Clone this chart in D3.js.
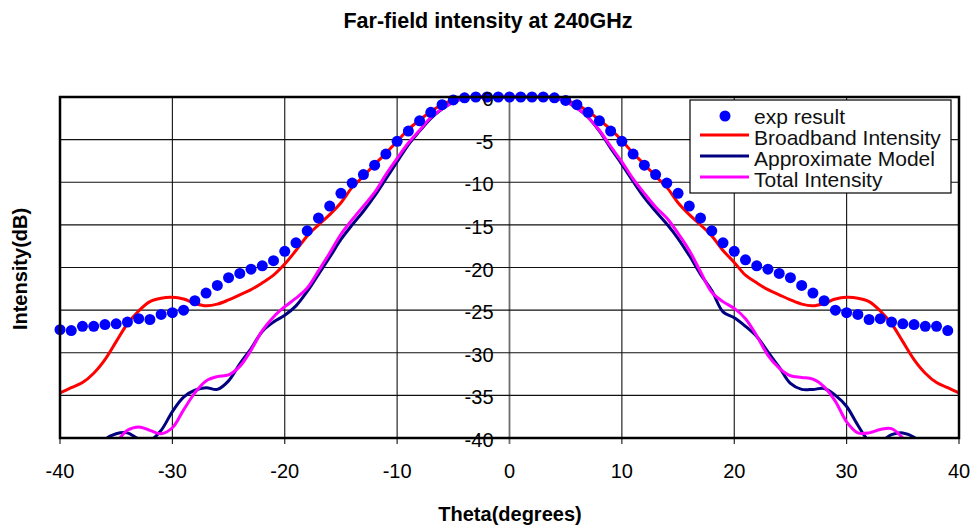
<!DOCTYPE html>
<html>
<head>
<meta charset="utf-8">
<script src="https://cdn.jsdelivr.net/npm/d3@7"></script>
<style>
  body { margin: 0; background: #fff; }
  text { font-family: "Liberation Sans", Arial, sans-serif; }
</style>
</head>
<body>
<div id="chart"></div>
<script>
// measured angles (degrees)
var expTheta = [-40,-39,-38,-37,-36,-35,-34,-33,-32,-31,-30,-29,-28,-27,-26,-25,-24,-23,-22,-21,
  -20,-19,-18,-17,-16,-15,-14,-13,-12,-11,-10,-9,-8,-7,-6,-5,-4,-3,-2,-1,
  0,1,2,3,4,5,6,7,8,9,10,11,12,13,14,15,16,17,18,19,
  20,21,22,23,24,25,26,27,28,29,30,31,32,33,34,35,36,37,38,39];
var expDb = [-27.3,-27.4,-26.9,-26.9,-26.7,-26.6,-26.4,-26.0,-26.1,-25.5,-25.3,-25.0,-23.9,-23.0,-22.1,-21.2,-20.7,-20.2,-19.8,-19.2,
  -18.1,-17.1,-15.7,-14.2,-12.8,-11.3,-10.1,-9.1,-8.0,-6.7,-5.2,-4.0,-2.8,-1.8,-0.9,-0.35,-0.1,0,0,0,
  0,0,0,0,-0.1,-0.4,-0.9,-1.8,-2.8,-4.0,-5.2,-6.7,-8.0,-9.1,-10.1,-11.3,-12.8,-14.2,-15.7,-17.1,
  -18.1,-19.1,-19.8,-20.2,-20.7,-21.2,-22.1,-23.0,-23.9,-25.0,-25.3,-25.5,-26.1,-26.0,-26.4,-26.6,-26.7,-26.9,-26.9,-27.4];

// broadband intensity
var bbTheta = [-40,-39,-38,-37,-36,-35,-34,-33,-32,-31,-30,-29,-28,-27,-26,-25,-24,-23,-22,-21,
  -20,-19,-18,-17,-16,-15,-14,-13,-12,-11,-10,-9,-8,-7,-6,-5,-4,-3,-2,-1,0,
  1,2,3,4,5,6,7,8,9,10,11,12,13,14,15,16,17,18,19,20,
  21,22,23,24,25,26,27,28,29,30,31,32,33,34,35,36,37,38,39,40];
var bbDb = [-34.7,-34.1,-33.5,-32.4,-30.8,-28.7,-26.6,-25.1,-24.0,-23.6,-23.5,-23.7,-24.2,-24.5,-24.3,-23.8,-23.2,-22.6,-21.8,-20.9,
  -19.6,-18.0,-16.3,-15.0,-13.8,-12.4,-10.6,-9.3,-7.9,-6.6,-5.2,-3.8,-2.7,-1.7,-0.9,-0.35,-0.1,0,0,0,0,
  0,0,0,-0.1,-0.35,-0.9,-1.7,-2.7,-3.8,-5.1,-6.6,-7.9,-9.3,-10.6,-12.4,-13.8,-15.0,-16.3,-18.0,-19.4,
  -20.9,-21.8,-22.6,-23.2,-23.8,-24.3,-24.5,-24.2,-23.7,-23.5,-23.6,-24.0,-25.1,-26.6,-28.7,-30.8,-32.4,-33.5,-34.1,-34.7];

// approximate model
var amTheta = [-37,-36,-35,-34,-33,-32,-31,-30,-29,-28,-27,-26,-25,-24,-23,-22,-21,-20,-19,-18,
  -17,-16,-15,-14,-13,-12,-11,-10,-9,-8,-7,-6,-5,-4,-3,-2,-1,0,
  1,2,3,4,5,6,7,8,9,10,11,12,13,14,15,16,17,18,19,20,
  21,22,23,24,25,26,27,28,29,30,31,32,33,34,35,36,37];
var amDb = [-42.0,-40.2,-39.5,-39.4,-40.1,-40.3,-39.1,-36.9,-35.2,-34.4,-34.1,-34.3,-33.3,-31.3,-29.5,-27.5,-26.4,-25.6,-24.5,-22.8,
  -20.8,-18.8,-16.7,-15.0,-13.4,-11.6,-9.6,-7.6,-5.6,-4.0,-2.5,-1.4,-0.6,-0.15,0,0,0,0,
  0,0,0,-0.1,-0.5,-1.3,-2.4,-4.0,-6.0,-7.9,-9.9,-11.8,-13.4,-14.9,-16.6,-18.6,-20.8,-22.7,-25.2,-25.9,
  -26.9,-28.1,-29.9,-31.7,-33.6,-34.3,-34.3,-34.2,-35.0,-36.3,-38.5,-40.3,-40.4,-39.6,-39.4,-39.9,-41.2];

// total intensity
var tiTheta = [-36,-35,-34,-33,-32,-31,-30,-29,-28,-27,-26,-25,-24,-23,-22,-21,-20,-19,-18,
  -17,-16,-15,-14,-13,-12,-11,-10,-9,-8,-7,-6,-5,-4,-3,-2,-1,0,
  1,2,3,4,5,6,7,8,9,10,11,12,13,14,15,16,17,18,19,20,
  21,22,23,24,25,26,27,28,29,30,31,32,33,34,35,36];
var tiDb = [-41.5,-40.5,-39.1,-38.7,-39.1,-39.5,-38.8,-36.7,-34.7,-33.3,-32.8,-32.6,-31.6,-29.7,-27.4,-25.8,-24.6,-23.6,-22.4,
  -20.4,-18.3,-16.1,-14.4,-12.8,-11.2,-9.1,-7.2,-5.4,-3.9,-2.4,-1.4,-0.6,-0.15,0,0,0,0,
  0,0,0,-0.1,-0.5,-1.3,-2.4,-3.9,-5.8,-7.6,-9.6,-11.3,-12.9,-14.2,-16.0,-18.0,-20.5,-22.9,-24.0,-24.8,
  -26.0,-28.0,-30.3,-31.8,-32.7,-32.9,-33.1,-34.0,-35.7,-38.1,-39.4,-39.4,-39.0,-38.9,-40.0,-41.5];

var xTicks = [-40,-30,-20,-10,0,10,20,30,40];
var yTicks = [0,-5,-10,-15,-20,-25,-30,-35,-40];

var legendNames = ["exp result","Broadband Intensity","Approximate Model","Total Intensity"];
var colors = {exp: "#0000ff", bb: "#ff0000", am: "#000080", ti: "#ff00ff"};

var W = 974, H = 525;
var pL = 60, pR = 959, pT = 97, pB = 438;

var svg = d3.select("#chart").append("svg").attr("width", W).attr("height", H);

var x = d3.scaleLinear().domain([-40, 40]).range([pL, pR]);
var y = d3.scaleLinear().domain([0, -40]).range([pT, pB]);

// grid
svg.append("g").selectAll("line").data(xTicks).enter().append("line")
  .attr("x1", d => x(d)).attr("x2", d => x(d))
  .attr("y1", pT).attr("y2", pB + 6)
  .attr("stroke", d => d === 0 ? "#6e6e6e" : "#111").attr("stroke-width", d => d === 0 ? 1.8 : 1.1);
svg.append("g").selectAll("line").data(yTicks).enter().append("line")
  .attr("x1", pL).attr("x2", pR)
  .attr("y1", d => y(d)).attr("y2", d => y(d))
  .attr("stroke", "#111").attr("stroke-width", 1.1);

// clip
svg.append("clipPath").attr("id", "plotclip").append("rect")
  .attr("x", pL).attr("y", pT - 8).attr("width", pR - pL).attr("height", pB - pT + 8);

var plot = svg.append("g").attr("clip-path", "url(#plotclip)");

function pairs(t, v) { return t.map((d, i) => [d, v[i]]); }

var line = d3.line().x(d => x(d[0])).y(d => y(d[1])).curve(d3.curveCatmullRom.alpha(0.5));

plot.append("path").datum(pairs(bbTheta, bbDb)).attr("d", line)
  .attr("fill", "none").attr("stroke", colors.bb).attr("stroke-width", 3);
plot.append("path").datum(pairs(amTheta, amDb)).attr("d", line)
  .attr("fill", "none").attr("stroke", colors.am).attr("stroke-width", 3);
plot.append("path").datum(pairs(tiTheta, tiDb)).attr("d", line)
  .attr("fill", "none").attr("stroke", colors.ti).attr("stroke-width", 3);

svg.append("g").selectAll("circle").data(pairs(expTheta, expDb)).enter().append("circle")
  .attr("cx", d => x(d[0])).attr("cy", d => y(d[1])).attr("r", 5.5)
  .attr("fill", colors.exp);

// frame
svg.append("rect").attr("x", pL).attr("y", pT).attr("width", pR - pL).attr("height", pB - pT)
  .attr("fill", "none").attr("stroke", "#000").attr("stroke-width", 2.5);

// y tick labels along theta = 0
svg.append("g").selectAll("text").data(yTicks).enter().append("text")
  .attr("x", x(0) - 16).attr("y", d => y(d) + 2)
  .attr("text-anchor", "end").attr("dominant-baseline", "central")
  .attr("font-size", 20).attr("fill", "#000")
  .text(d => d);

// x tick labels
svg.append("g").selectAll("text").data(xTicks).enter().append("text")
  .attr("x", d => x(d)).attr("y", 471)
  .attr("text-anchor", "middle").attr("dominant-baseline", "central")
  .attr("font-size", 20).attr("fill", "#000")
  .text(d => d);

// titles
svg.append("text").attr("x", 488).attr("y", 21).attr("text-anchor", "middle")
  .attr("dominant-baseline", "central").attr("font-size", 21.5).attr("font-weight", "bold")
  .text("Far-field intensity at 240GHz");
svg.append("text").attr("x", 510).attr("y", 514).attr("text-anchor", "middle")
  .attr("dominant-baseline", "central").attr("font-size", 20).attr("font-weight", "bold")
  .text("Theta(degrees)");
svg.append("text").attr("transform", "translate(20,269) rotate(-90)").attr("text-anchor", "middle")
  .attr("dominant-baseline", "central").attr("font-size", 20).attr("font-weight", "bold")
  .text("Intensity(dB)");

// legend
var lg = svg.append("g");
lg.append("rect").attr("x", 690).attr("y", 100).attr("width", 261).attr("height", 93)
  .attr("fill", "#fff").attr("stroke", "#000").attr("stroke-width", 1.2);
var rowY = [116, 137, 158, 179];
lg.append("circle").attr("cx", 725).attr("cy", rowY[0]).attr("r", 5.5).attr("fill", colors.exp);
[colors.bb, colors.am, colors.ti].forEach(function(c, i) {
  lg.append("line").attr("x1", 700).attr("x2", 749).attr("y1", rowY[i + 1] - 2).attr("y2", rowY[i + 1] - 2)
    .attr("stroke", c).attr("stroke-width", 3);
});
lg.selectAll("text").data(legendNames).enter().append("text")
  .attr("x", 754).attr("y", (d, i) => rowY[i])
  .attr("dominant-baseline", "central").attr("font-size", 21).attr("fill", "#111")
  .text(d => d);
</script>
</body>
</html>
